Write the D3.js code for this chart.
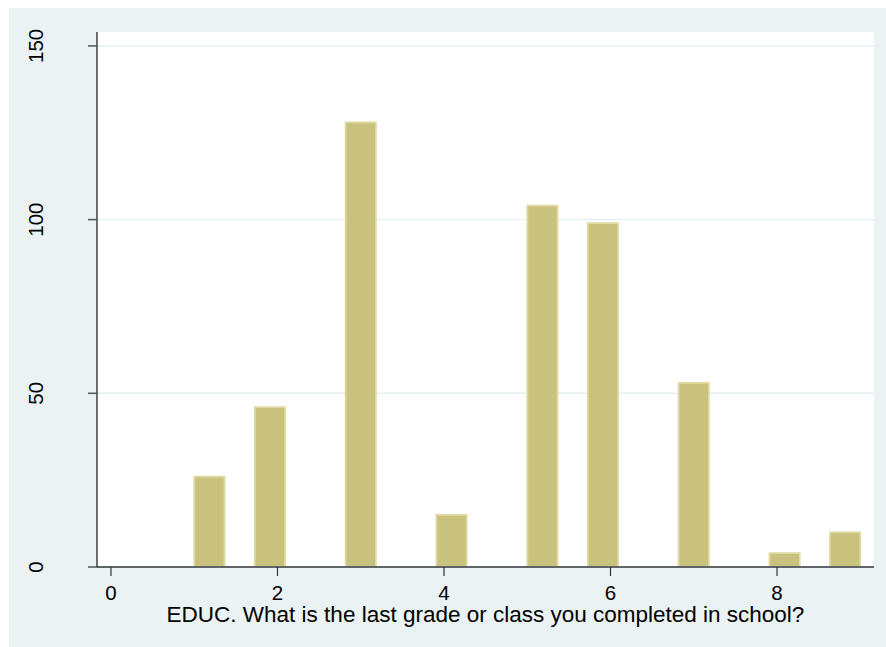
<!DOCTYPE html>
<html>
<head>
<meta charset="utf-8">
<script src="https://cdn.jsdelivr.net/npm/d3@7"></script>
<style>
  body { margin: 0; background: #fff; }
  svg { display: block; font-family: "Liberation Sans", Arial, sans-serif; }
</style>
</head>
<body>
<div id="chart"></div>
<script>
// education codes and their frequencies (Stata histogram, 22 bins from 1 to 9)
const codes = [1, 2, 3, 4, 5, 6, 7, 8, 9]
const counts = [26, 46, 128, 15, 104, 99, 53, 4, 10]
const binCount = 22
const binRange = [1, 9]
const xTicks = [0, 2, 4, 6, 8]
const yTicks = [0, 50, 100, 150]
const xTitle = 'EDUC. What is the last grade or class you completed in school?'

const dim = {
    fullWidth: 886,
    fullHeight: 647,
    margin: { top: 32, right: 12, bottom: 80, left: 97 }
}
const width = dim.fullWidth - dim.margin.left - dim.margin.right,
    height = dim.fullHeight - dim.margin.top - dim.margin.bottom

const svg = d3.select('#chart')
    .append('svg')
    .attr('width', dim.fullWidth)
    .attr('height', dim.fullHeight)

// outer graph region
svg.append('rect')
    .attr('x', 9)
    .attr('y', 8)
    .attr('width', dim.fullWidth - 9)
    .attr('height', dim.fullHeight - 8)
    .attr('fill', '#eaf2f3')

const g = svg.append('g')
    .attr('transform', 'translate(' + dim.margin.left + ',' + dim.margin.top + ')')

g.append('rect')
    .attr('width', width)
    .attr('height', height)
    .attr('fill', '#ffffff')

const x = d3.scaleLinear().domain([-0.168, 9.165]).range([0, width])
const y = d3.scaleLinear().domain([0, 154]).range([height, 0])

// grid lines
g.append('g')
    .attr('class', 'grid')
    .selectAll('line')
    .data(yTicks.filter(d => d > 0))
    .enter()
    .append('line')
    .attr('x1', 0)
    .attr('x2', width)
    .attr('y1', d => y(d))
    .attr('y2', d => y(d))
    .attr('stroke', '#e6eff1')
    .attr('stroke-width', 1.5)

// bins
const binWidth = (binRange[1] - binRange[0]) / binCount
const bars = codes.map((c, i) => {
    let k = Math.min(binCount - 1, Math.floor((c - binRange[0]) / binWidth + 1e-9))
    return { lo: binRange[0] + k * binWidth, hi: binRange[0] + (k + 1) * binWidth, n: counts[i] }
})

g.append('g')
    .attr('class', 'bar')
    .selectAll('rect')
    .data(bars)
    .enter()
    .append('rect')
    .attr('x', d => x(d.lo))
    .attr('y', d => y(d.n))
    .attr('width', d => x(d.hi) - x(d.lo))
    .attr('height', d => y(0) - y(d.n))
    .attr('fill', '#c9c27e')
    .attr('stroke', '#e0daa2')
    .attr('stroke-width', 1.8)

// x axis
const xAxis = g.append('g')
    .attr('class', 'x-axis')
    .attr('transform', 'translate(0,' + height + ')')

xAxis.append('line')
    .attr('x1', 0)
    .attr('x2', width)
    .attr('stroke', '#5f6466')
    .attr('stroke-width', 2)

xAxis.selectAll('.tick')
    .data(xTicks)
    .enter()
    .append('g')
    .attr('class', 'tick')
    .attr('transform', d => 'translate(' + x(d) + ',0)')
    .call(t => t.append('line')
        .attr('y1', 0)
        .attr('y2', 9)
        .attr('stroke', '#333')
        .attr('stroke-width', 1.2))
    .call(t => t.append('text')
        .attr('y', 33)
        .attr('text-anchor', 'middle')
        .attr('font-size', 20.5)
        .attr('fill', '#000')
        .text(d => d))

xAxis.append('text')
    .attr('x', width / 2)
    .attr('y', 55)
    .attr('text-anchor', 'middle')
    .attr('font-size', 22.5)
    .attr('fill', '#000')
    .text(xTitle)

// y axis
const yAxis = g.append('g').attr('class', 'y-axis')

yAxis.append('line')
    .attr('y1', 0)
    .attr('y2', height)
    .attr('stroke', '#111')
    .attr('stroke-width', 1.2)

yAxis.selectAll('.tick')
    .data(yTicks)
    .enter()
    .append('g')
    .attr('class', 'tick')
    .attr('transform', d => 'translate(0,' + y(d) + ')')
    .call(t => t.append('line')
        .attr('x1', -9)
        .attr('x2', 0)
        .attr('stroke', '#555')
        .attr('stroke-width', 1.5))
    .call(t => t.append('text')
        .attr('transform', 'translate(-54,0) rotate(-90)')
        .attr('text-anchor', 'middle')
        .attr('font-size', 20.5)
        .attr('fill', '#000')
        .text(d => d))
</script>
</body>
</html>
